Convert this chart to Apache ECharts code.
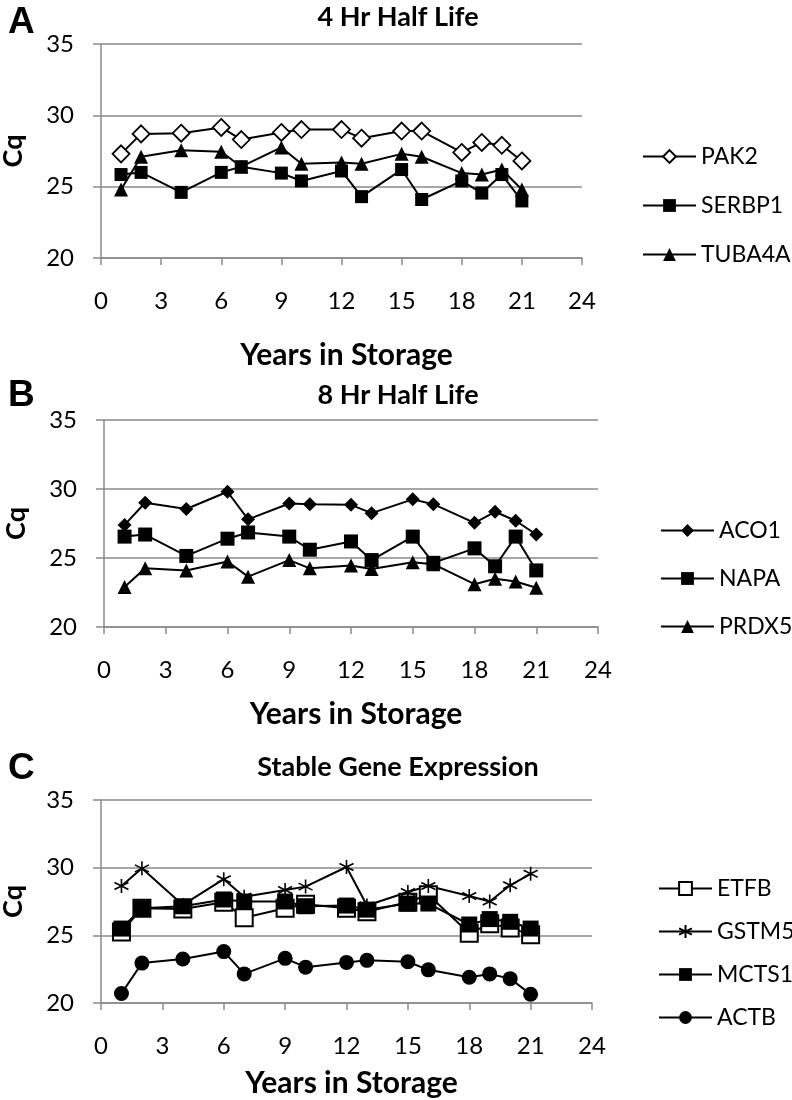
<!DOCTYPE html>
<html>
<head>
<meta charset="utf-8">
<script src="https://cdn.jsdelivr.net/npm/echarts@6/dist/echarts.min.js"></script>
<style>
html,body{margin:0;padding:0;background:#fff;}
#chart{width:792px;height:1100px;}
</style>
</head>
<body>
<div id="chart"></div>
<script>
// ---- data ----
const years = [1, 2, 4, 6, 7, 9, 10, 12, 13, 15, 16, 18, 19, 20, 21];
const xTicks = [0, 3, 6, 9, 12, 15, 18, 21, 24];
const yTicks = [20, 25, 30, 35];

// Panel A: 4 Hr Half Life
const PAK2   = [27.3, 28.7, 28.75, 29.15, 28.3, 28.8, 29.0, 29.0, 28.4, 28.9, 28.9, 27.4, 28.1, 27.9, 26.8];
const SERBP1 = [25.85, 26.0, 24.6, 26.0, 26.4, 25.95, 25.4, 26.1, 24.3, 26.2, 24.1, 25.4, 24.55, 25.85, 24.0];
const TUBA4A = [24.8, 27.1, 27.55, 27.45, 26.4, 27.75, 26.6, 26.7, 26.6, 27.3, 27.1, 25.95, 25.85, 26.2, 24.8];

// Panel B: 8 Hr Half Life
const ACO1  = [27.4, 29.0, 28.55, 29.8, 27.8, 28.95, 28.9, 28.85, 28.25, 29.25, 28.9, 27.55, 28.35, 27.7, 26.7];
const NAPA  = [26.55, 26.7, 25.15, 26.4, 26.85, 26.55, 25.6, 26.2, 24.85, 26.55, 24.65, 25.7, 24.4, 26.55, 24.1];
const PRDX5 = [22.9, 24.25, 24.1, 24.75, 23.65, 24.85, 24.25, 24.45, 24.2, 24.7, 24.55, 23.1, 23.5, 23.3, 22.85];

// Panel C: Stable Gene Expression
const ETFB  = [25.25, 27.0, 26.95, 27.45, 26.3, 27.0, 27.3, 27.0, 26.75, 27.45, 28.0, 25.15, 25.85, 25.55, 25.05];
const GSTM5 = [28.65, 29.95, 27.25, 29.15, 27.85, 28.35, 28.6, 30.05, 27.2, 28.2, 28.65, 27.9, 27.5, 28.7, 29.55];
const MCTS1 = [25.5, 27.0, 27.15, 27.65, 27.5, 27.5, 27.15, 27.2, 26.9, 27.35, 27.35, 25.8, 26.2, 26.0, 25.5];
const ACTB  = [20.7, 22.95, 23.25, 23.8, 22.15, 23.3, 22.65, 23.0, 23.15, 23.05, 22.45, 21.9, 22.15, 21.8, 20.65];

const panelLetters = ['A', 'B', 'C'];
const panelTitles = ['4 Hr Half Life', '8 Hr Half Life', 'Stable Gene Expression'];
const xName = 'Years in Storage';
const yName = 'Cq';

// ---- layout / style ----
const FONT = 'Lato';
const GRAY = '#8a8a8a';
const grids = [
  {left: 101, top: 44, width: 481, height: 214, outerBoundsMode: 'none', containLabel: false},
  {left: 104, top: 420, width: 494, height: 207, outerBoundsMode: 'none', containLabel: false},
  {left: 101, top: 800, width: 491, height: 203, outerBoundsMode: 'none', containLabel: false}
];
const letterTops = [-1, 372, 745];
const titleTops = [-1, 377, 749];
const xNameTops = [335, 694, 1063];

const ASTERISK = 'path://M5,0L5,10M0.7,2.5L9.3,7.5M9.3,2.5L0.7,7.5';

function pairs(vals) { return years.map((y, i) => [y, vals[i]]); }

function lineSeries(name, vals, idx, symbol, size, fill, extra) {
  return Object.assign({
    name: name, type: 'line', xAxisIndex: idx, yAxisIndex: idx,
    data: pairs(vals), symbol: symbol, symbolSize: size,
    lineStyle: {color: '#000', width: 2},
    itemStyle: {color: fill, borderColor: '#000', borderWidth: fill === '#fff' ? 1.8 : 0},
    emphasis: {disabled: true}, animation: false
  }, extra || {});
}

const xAxes = grids.map((g, i) => ({
  type: 'value', gridIndex: i, min: 0, max: 24, interval: 3,
  axisLine: {show: true, lineStyle: {color: GRAY, width: 1.5}},
  axisTick: {show: true, length: 7, lineStyle: {color: GRAY, width: 1.5}},
  splitLine: {show: false},
  axisLabel: {fontFamily: FONT, fontSize: 24, color: '#000', margin: 31,
    formatter: v => xTicks.includes(v) ? String(v) : ''}
}));
const yAxes = grids.map((g, i) => ({
  type: 'value', gridIndex: i, min: 20, max: 35, interval: 5,
  name: yName, nameLocation: 'middle', nameRotate: 90, nameGap: 74,
  nameTextStyle: {fontFamily: FONT, fontSize: 27, fontWeight: 'bold', color: '#000'},
  axisLine: {show: true, lineStyle: {color: GRAY, width: 1.5}},
  axisTick: {show: true, length: 8, lineStyle: {color: GRAY, width: 1.5}},
  splitLine: {show: true, lineStyle: {color: GRAY, width: 1.5}},
  axisLabel: {fontFamily: FONT, fontSize: 24, color: '#000', margin: 27,
    formatter: v => yTicks.includes(v) ? String(v) : ''}
}));

const titles = [];
panelLetters.forEach((L, i) => {
  titles.push({text: L, left: 3, top: letterTops[i],
    textStyle: {fontFamily: 'Liberation Sans', fontSize: 37, fontWeight: 'bold', color: '#000'}});
  titles.push({text: panelTitles[i], left: 393, textAlign: 'center', top: titleTops[i],
    textStyle: {fontFamily: FONT, fontSize: 27, fontWeight: 'bold', color: '#000'}});
  const g = grids[i];
  titles.push({text: xName, left: g.left + g.width / 2, textAlign: 'center', top: xNameTops[i],
    textStyle: {fontFamily: FONT, fontSize: 30, fontWeight: 'bold', color: '#000'}});
});

const legendBase = {orient: 'vertical', itemWidth: 53, itemHeight: 16,
  textStyle: {fontFamily: FONT, fontSize: 23, color: '#000'}, selectedMode: false};

const option = {
  backgroundColor: '#fff',
  animation: false,
  title: titles,
  grid: grids,
  xAxis: xAxes,
  yAxis: yAxes,
  legend: [
    Object.assign({}, legendBase, {data: ['PAK2', 'SERBP1', 'TUBA4A'], left: 637, top: 140, itemGap: 26}),
    Object.assign({}, legendBase, {data: ['ACO1', 'NAPA', 'PRDX5'], left: 655, top: 514, itemGap: 25}),
    Object.assign({}, legendBase, {data: ['ETFB', 'GSTM5', 'MCTS1', 'ACTB'], left: 653, top: 872, itemGap: 20})
  ],
  series: [
    lineSeries('PAK2', PAK2, 0, 'diamond', 17, '#fff'),
    lineSeries('SERBP1', SERBP1, 0, 'rect', 13, '#000'),
    lineSeries('TUBA4A', TUBA4A, 0, 'triangle', 14, '#000'),
    lineSeries('ACO1', ACO1, 1, 'diamond', 14, '#000'),
    lineSeries('NAPA', NAPA, 1, 'rect', 14, '#000'),
    lineSeries('PRDX5', PRDX5, 1, 'triangle', 14, '#000'),
    lineSeries('ETFB', ETFB, 2, 'rect', 17, '#fff', {itemStyle: {color: '#fff', borderColor: '#000', borderWidth: 2}}),
    lineSeries('GSTM5', GSTM5, 2, ASTERISK, 14, '#000', {itemStyle: {color: 'none', borderColor: '#000', borderWidth: 1.6}}),
    lineSeries('MCTS1', MCTS1, 2, 'rect', 16, '#000'),
    lineSeries('ACTB', ACTB, 2, 'circle', 15, '#000')
  ]
};

const chart = echarts.init(document.getElementById('chart'), null, {renderer: 'canvas'});
chart.setOption(option);
</script>
</body>
</html>
